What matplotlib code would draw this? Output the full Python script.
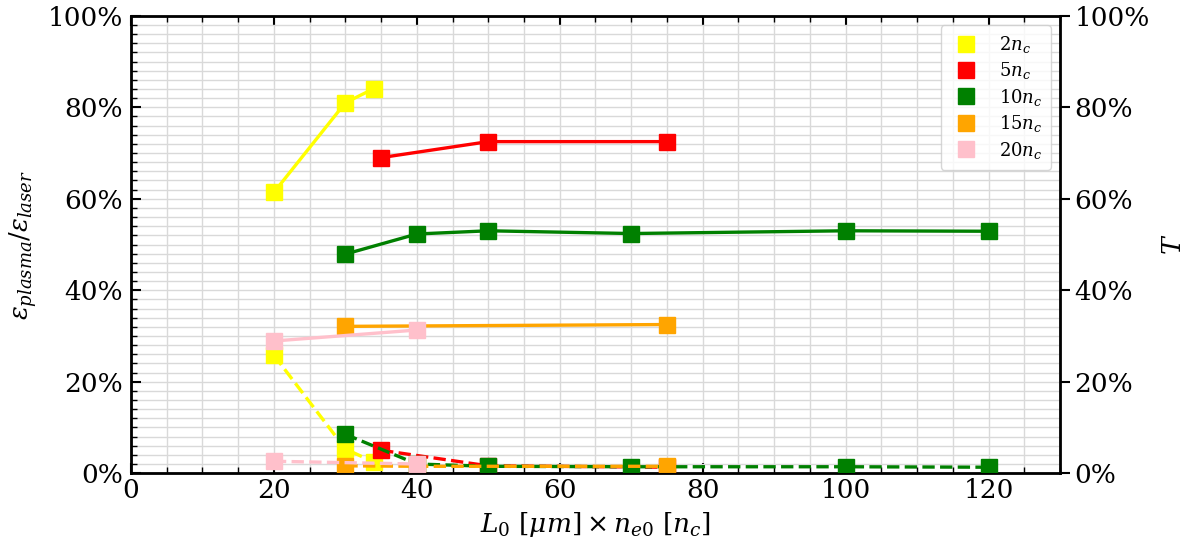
import matplotlib
matplotlib.use("Agg")
import matplotlib.pyplot as plt
from matplotlib.ticker import MultipleLocator, PercentFormatter
from matplotlib.lines import Line2D

plt.rcParams['font.family'] = ['DejaVu Serif']
plt.rcParams['mathtext.fontset'] = 'dejavuserif'

labels = [r'$2n_c$', r'$5n_c$', r'$10n_c$', r'$15n_c$', r'$20n_c$']
colors = ['yellow', 'red', 'green', 'orange', 'pink']

# Solid: energy fraction (left axis)
eps_x = [[20, 30, 34], [35, 50, 75], [30, 40, 50, 70, 100, 120], [30, 75], [20, 40]]
eps_y = [[61.4, 81.0, 84.1], [69.0, 72.5, 72.5], [47.9, 52.3, 53.0, 52.4, 53.0, 52.9], [32.1, 32.5], [28.9, 31.3]]

# Dashed: transmission T
T_x = [[20, 30, 34], [35, 50, 75], [30, 40, 50, 70, 100, 120], [30, 40, 75], [20, 40]]
T_y = [[25.8, 5.3, 2.4], [5.0, 1.6, 1.3], [8.5, 2.0, 1.5, 1.4, 1.4, 1.3], [1.6, 1.5, 1.5], [2.6, 2.0]]

fig = plt.figure(figsize=(11.95, 5.47), dpi=100)
ax = fig.add_axes([0.1096, 0.135, 0.7774, 0.836])

for i in range(len(labels)):
    ax.plot(eps_x[i], eps_y[i], '-', color=colors[i], lw=2.4, marker='s', ms=11, zorder=3)
    ax.plot(T_x[i], T_y[i], '--', color=colors[i], lw=2.4, marker='s', ms=11, zorder=3)

ax.set_xlim(0, 130)
ax.set_ylim(0, 100)
ax.xaxis.set_major_locator(MultipleLocator(20))
ax.xaxis.set_minor_locator(MultipleLocator(5))
ax.yaxis.set_major_locator(MultipleLocator(20))
ax.yaxis.set_minor_locator(MultipleLocator(2))
ax.yaxis.set_major_formatter(PercentFormatter(decimals=0))
ax.grid(True, which='both', color='#d9d9d9', lw=1, zorder=0)
ax.set_axisbelow(True)
ax.tick_params(which='both', direction='in', top=True, right=True, labelsize=19)
ax.tick_params(axis='y', pad=6)
ax.tick_params(which='major', length=7, width=1.5)
ax.tick_params(which='minor', length=4, width=1)
for s in ax.spines.values():
    s.set_linewidth(2)
ax.set_xlabel(r'$L_0\ [\mu m] \times n_{e0}\ [n_c]$', fontsize=19, labelpad=5)
ax.set_ylabel(r'$\varepsilon_{plasma}/\varepsilon_{laser}$', fontsize=18.5, labelpad=6)

ax2 = ax.twinx()
ax2.set_ylim(0, 100)
ax2.yaxis.set_major_locator(MultipleLocator(20))
ax2.yaxis.set_major_formatter(PercentFormatter(decimals=0))
ax2.tick_params(which='major', direction='out', length=7, width=1.5, labelsize=19)
ax2.set_ylabel(r'$T$', fontsize=19, labelpad=8)

handles = [Line2D([], [], ls='none', marker='s', ms=11, color=c) for c in colors]
ax.legend(handles, labels, loc='upper right', fontsize=13, framealpha=0.8,
          handlelength=1.8, borderpad=0.5, labelspacing=0.3, handletextpad=0.9)

fig.savefig('out.png', dpi=100)
